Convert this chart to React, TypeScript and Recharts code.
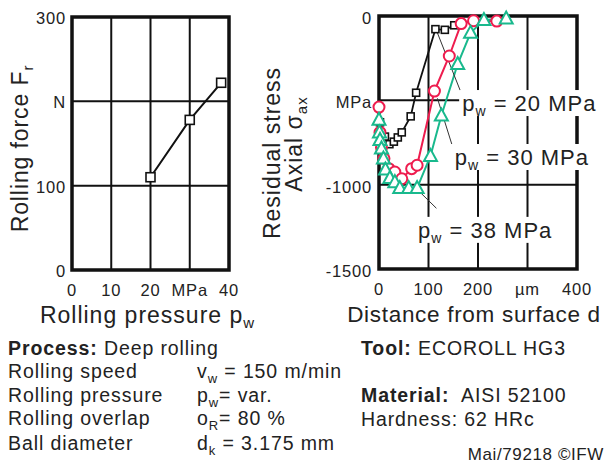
import React from "react";
import {
  LineChart,
  Line,
  XAxis,
  YAxis,
  CartesianGrid,
  ReferenceArea,
  ReferenceLine,
  ReferenceDot,
} from "recharts";

const FONT = '"Liberation Sans", Arial, Helvetica, sans-serif';
const INK = "#222";
const RED = "#ee1c4e";
const GREEN = "#19b98d";

// rolling force vs rolling pressure
const pressureMPa = [20, 30, 38];
const forceN = [110, 178, 222];
const pressureTicks = [0, 10, 20, 30, 40];
const forceTicks = [0, 100, 200, 300];

// residual stress profiles (depth in µm, stress in MPa)
const depth20 = [2, 12, 21, 30, 38, 46, 64, 75, 114, 133, 152];
const stress20 = [-630, -715, -760, -745, -720, -690, -595, -455, -78, -82, -55];

const depth30 = [0, 2, 5, 10, 20, 32, 46, 66, 77, 112, 142, 166, 191, 238];
const stress30 = [-540, -690, -780, -845, -905, -925, -965, -905, -885, -445, -237, -45, -28, -30];

const depth38 = [0, 1, 2, 5, 9, 13, 22, 32, 42, 60, 77, 104, 126, 159, 185, 212, 257];
const stress38 = [-615, -690, -735, -785, -845, -910, -960, -985, -1020, -1020, -1020, -830, -590, -285, -100, -24, -15];

const depthTicks = [0, 100, 200, 300, 400];
const stressTicks = [-1500, -1000, -500, 0];

const forceData = pressureMPa.map((p, i) => ({ p, f: forceN[i] }));
const toRows = (d: number[], s: number[]) => d.map((x, i) => ({ d: x, s: s[i] }));
const rows20 = toRows(depth20, stress20);
const rows30 = toRows(depth30, stress30);
const rows38 = toRows(depth38, stress38);

const fmtPressure = (v: number) => (v === 30 ? "MPa" : String(v));
const fmtForce = (v: number) => (v === 200 ? "N" : String(v));
const fmtDepth = (v: number) => (v === 300 ? "µm" : String(v));
const fmtStress = (v: number) => (v === -500 ? "MPa" : String(v));

const tickText = {
  fontFamily: FONT,
  fontSize: 16.5,
  fill: INK,
  letterSpacing: 0.8,
};

const XTick = (fmt: (v: number) => string) => (p: any) => (
  <text x={p.x} y={p.y} dy="0.71em" textAnchor="middle" style={tickText}>
    {fmt(p.payload.value)}
  </text>
);

const YTick = (fmt: (v: number) => string, shift: number) => (p: any) => (
  <text x={p.x} y={p.y + shift} dy="0.355em" textAnchor="end" style={tickText}>
    {fmt(p.payload.value)}
  </text>
);

const titleStyle = {
  fontFamily: FONT,
  fontSize: 23,
  fill: INK,
  letterSpacing: 1,
};

const XTitle = ({ viewBox, children, shift = 0, style }: any) => {
  const vb = viewBox || { x: 0, y: 0, width: 0, height: 0 };
  return (
    <text
      x={vb.x + vb.width / 2 + shift}
      y={vb.y + 53}
      textAnchor="middle"
      style={{ ...titleStyle, ...style }}
    >
      {children}
    </text>
  );
};

const SquareDot = (size: number) => (p: any) => (
  <rect
    key={`sq-${p.index}`}
    x={p.cx - size / 2}
    y={p.cy - size / 2}
    width={size}
    height={size}
    fill="#fff"
    stroke="#111"
    strokeWidth={1.6}
  />
);

const CircleDot = (p: any) => (
  <circle key={`ci-${p.index}`} cx={p.cx} cy={p.cy} r={5.5} fill="#fff" stroke={RED} strokeWidth={2} />
);

const TriDot = (p: any) => (
  <polygon
    key={`tr-${p.index}`}
    points={`${p.cx},${p.cy - 7} ${p.cx - 6.5},${p.cy + 5} ${p.cx + 6.5},${p.cy + 5}`}
    fill="#fff"
    stroke={GREEN}
    strokeWidth={2}
  />
);

// "p_w = xx MPa" tag with white background
const PwTag = (value: string) => (p: any) => (
  <g key={`tag-${value}`}>
    <rect x={p.cx - 3} y={p.cy - 13} width={140} height={26} fill="#fff" />
    <text x={p.cx} y={p.cy} dy="0.36em" style={{ ...titleStyle, fontSize: 22 }}>
      p
      <tspan dy={5} fontSize={14}>w</tspan>
      <tspan dy={-5}>{` = ${value} MPa`}</tspan>
    </text>
  </g>
);

function ForceChart() {
  return (
    <LineChart
      width={262}
      height={330}
      data={forceData}
      margin={{ top: 17, right: 33, bottom: 0, left: 0 }}
    >
      <CartesianGrid stroke="#111" strokeWidth={2} />
      <XAxis
        dataKey="p"
        type="number"
        domain={[0, 40]}
        ticks={pressureTicks}
        axisLine={false}
        tickLine={false}
        tickSize={0}
        tickMargin={14}
        height={60}
        tick={XTick(fmtPressure)}
        label={
          <XTitle shift={-3}>
            Rolling pressure p<tspan dy={5} fontSize={15}>w</tspan>
          </XTitle>
        }
      />
      <YAxis
        type="number"
        domain={[0, 300]}
        ticks={forceTicks}
        axisLine={false}
        tickLine={false}
        tickSize={0}
        tickMargin={6}
        width={72}
        tick={YTick(fmtForce, 1)}
        label={(props: any) => {
          const vb = props.viewBox || { x: 0, y: 17, width: 72, height: 253 };
          const cx = vb.x + 28;
          const cy = vb.y + vb.height / 2 + 5;
          return (
            <text
              x={cx}
              y={cy}
              textAnchor="middle"
              transform={`rotate(-90 ${cx} ${cy})`}
              style={{ ...titleStyle, letterSpacing: 0.9 }}
            >
              Rolling force F<tspan dy={5} fontSize={15}>r</tspan>
            </text>
          );
        }}
      />
      <ReferenceArea
        x1={0}
        x2={40}
        y1={0}
        y2={300}
        fill="none"
        stroke="#111"
        strokeWidth={3.5}
        ifOverflow="visible"
      />
      <Line
        dataKey="f"
        stroke="#111"
        strokeWidth={2}
        dot={SquareDot(9)}
        isAnimationActive={false}
      />
    </LineChart>
  );
}

function StressChart() {
  return (
    <LineChart width={366} height={330} margin={{ top: 16, right: 29, bottom: 0, left: 0 }}>
      <CartesianGrid stroke="#111" strokeWidth={2} />
      <XAxis
        dataKey="d"
        type="number"
        domain={[0, 400]}
        ticks={depthTicks}
        axisLine={false}
        tickLine={false}
        tickSize={0}
        tickMargin={14}
        height={61}
        tick={XTick(fmtDepth)}
        label={
          <XTitle shift={-4} style={{ fontSize: 22.5, letterSpacing: 0.7 }}>
            Distance from surface d
          </XTitle>
        }
      />
      <YAxis
        dataKey="s"
        type="number"
        domain={[-1500, 0]}
        ticks={stressTicks}
        axisLine={false}
        tickLine={false}
        tickSize={0}
        tickMargin={7}
        width={139}
        tick={YTick(fmtStress, 2)}
        label={(props: any) => {
          const vb = props.viewBox || { x: 0, y: 16, width: 139, height: 253 };
          const x1 = vb.x + 40;
          const y1 = vb.y + 137;
          const x2 = vb.x + 62;
          const y2 = vb.y + 128;
          return (
            <g>
              <text x={x1} y={y1} textAnchor="middle" transform={`rotate(-90 ${x1} ${y1})`} style={titleStyle}>
                Residual stress
              </text>
              <text x={x2} y={y2} textAnchor="middle" transform={`rotate(-90 ${x2} ${y2})`} style={titleStyle}>
                Axial σ<tspan dy={5} fontSize={15}>ax</tspan>
              </text>
            </g>
          );
        }}
      />
      <ReferenceArea
        x1={0}
        x2={400}
        y1={-1500}
        y2={0}
        fill="none"
        stroke="#111"
        strokeWidth={3.5}
        ifOverflow="visible"
      />
      <Line
        data={rows20}
        dataKey="s"
        stroke="#111"
        strokeWidth={1.8}
        dot={SquareDot(7)}
        isAnimationActive={false}
      />
      <Line
        data={rows30}
        dataKey="s"
        stroke={RED}
        strokeWidth={2}
        dot={CircleDot}
        isAnimationActive={false}
      />
      <Line
        data={rows38}
        dataKey="s"
        stroke={GREEN}
        strokeWidth={2}
        dot={TriDot}
        isAnimationActive={false}
      />
      <ReferenceLine
        segment={[{ x: 117, y: -93 }, { x: 169, y: -478 }]}
        stroke="#333"
        strokeWidth={1}
        ifOverflow="visible"
      />
      <ReferenceLine
        segment={[{ x: 118, y: -488 }, { x: 147, y: -759 }]}
        stroke="#333"
        strokeWidth={1}
        ifOverflow="visible"
      />
      <ReferenceLine
        segment={[{ x: 83, y: -1045 }, { x: 116, y: -1140 }]}
        stroke="#333"
        strokeWidth={1}
        ifOverflow="visible"
      />
      <ReferenceDot x={168} y={-516} r={0} ifOverflow="visible" shape={PwTag("20")} zIndex={3000} />
      <ReferenceDot x={153} y={-836} r={0} ifOverflow="visible" shape={PwTag("30")} zIndex={3000} />
      <ReferenceDot x={79} y={-1268} r={0} ifOverflow="visible" shape={PwTag("38")} zIndex={3000} />
    </LineChart>
  );
}

const noteStyle = {
  fontFamily: FONT,
  fontSize: 19.5,
  fill: INK,
  letterSpacing: 0.9,
};

// symbol with subscript, followed by the rest of the line on the normal baseline
const Sym = ({ s, sub, rest }: { s: string; sub: string; rest: string }) => (
  <>
    {s}
    <tspan dy={5} fontSize={13}>
      {sub}
    </tspan>
    <tspan dy={-5}>{rest}</tspan>
  </>
);

function Notes() {
  return (
    <svg
      width={606}
      height={135}
      viewBox="0 330 606 135"
      style={{ position: "absolute", left: 0, top: 330 }}
    >
      <g style={noteStyle}>
        <text x={8} y={355}>
          <tspan fontWeight="bold">Process:</tspan> Deep rolling
        </text>
        <text x={8} y={378}>Rolling speed</text>
        <text x={8} y={402}>Rolling pressure</text>
        <text x={8} y={425}>Rolling overlap</text>
        <text x={8} y={450}>Ball diameter</text>

        <text x={197} y={378}>
          <Sym s="v" sub="w" rest=" = 150 m/min" />
        </text>
        <text x={197} y={402}>
          <Sym s="p" sub="w" rest="= var." />
        </text>
        <text x={197} y={425}>
          <Sym s="o" sub="R" rest="= 80 %" />
        </text>
        <text x={197} y={450}>
          <Sym s="d" sub="k" rest=" = 3.175 mm" />
        </text>

        <text x={361} y={355}>
          <tspan fontWeight="bold">Tool:</tspan> ECOROLL HG3
        </text>
        <text x={361} y={402}>
          <tspan fontWeight="bold">Material:</tspan>
        </text>
        <text x={461} y={402}>AISI 52100</text>
        <text x={361} y={426}>Hardness: 62 HRc</text>
        <text x={604} y={460} textAnchor="end" fontSize={17} letterSpacing={0.6}>
          Mai/79218 ©IFW
        </text>
      </g>
    </svg>
  );
}

export default function App() {
  return (
    <div
      style={{
        position: "absolute",
        left: 0,
        top: 0,
        width: 606,
        height: 465,
        background: "#fff",
        overflow: "hidden",
      }}
    >
      <div style={{ position: "absolute", left: 0, top: 0 }}>
        <ForceChart />
      </div>
      <div style={{ position: "absolute", left: 240, top: 0 }}>
        <StressChart />
      </div>
      <Notes />
    </div>
  );
}
